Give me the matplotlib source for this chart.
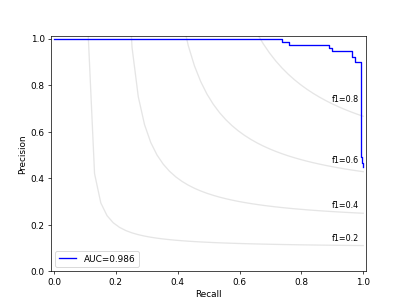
import numpy as np
import matplotlib
matplotlib.use('Agg')
import matplotlib.pyplot as plt

# precision/recall curve (step shape)
recall = [0.0, 0.724, 0.736, 0.760, 0.889, 0.898, 0.965, 0.973, 0.993, 0.996, 1.0]
precision = [1.0, 0.998, 0.987, 0.975, 0.961, 0.947, 0.922, 0.901, 0.493, 0.465, 0.45]
auc_label = 'AUC=0.986'

# iso-f1 reference levels
f1_levels = [0.2, 0.4, 0.6, 0.8]

fig, ax = plt.subplots(figsize=(6.4, 4.8), dpi=407 / 6.4)

# iso-f1 curves
x = np.linspace(0.01, 1)
for f in f1_levels:
    y = f * x / (2 * x - f)
    ax.plot(x[y >= 0], y[y >= 0], color='gray', alpha=0.2)
    ax.annotate('f1={0:0.1f}'.format(f), xy=(0.9, y[45] + 0.02), fontsize=9)

ax.step(recall, precision, where='post', color='blue', label=auc_label)

ax.set_xlim(-0.01, 1.01)
ax.set_ylim(0.0, 1.01)
ax.set_xlabel('Recall')
ax.set_ylabel('Precision')
ax.legend(loc='lower left')

plt.savefig('out.png', dpi=407 / 6.4)
plt.close()
